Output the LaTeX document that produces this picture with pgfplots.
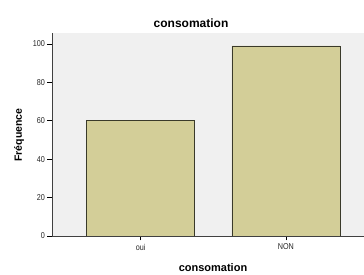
\documentclass[border=0pt]{standalone}
\usepackage{fontspec}
\setmainfont{Liberation Sans}
\usepackage{pgfplots}
\pgfplotsset{compat=1.18}
\definecolor{bgc}{HTML}{F0F0F0}
\definecolor{barc}{HTML}{D3CE98}
\definecolor{edgec}{HTML}{3A3A2A}
\begin{document}
\begin{tikzpicture}
\useasboundingbox (0,0) rectangle (364pt,275pt);
\clip (0,0) rectangle (364pt,275pt);
\fill[white] (0,0) rectangle (364pt,275pt);
\begin{axis}[
  at={(52pt,39pt)}, anchor=south west,
  scale only axis, width=325pt, height=203pt,
  xmin=-0.61, xmax=1.627, ymin=0, ymax=105.7,
  axis background/.style={fill=bgc},
  axis line style={draw=black!75, line width=0.8pt},
  axis x line*=bottom, axis y line*=left,
  ytick={0,20,40,60,80,100},
  xtick={0,1}, xticklabels={\scalebox{0.85}[1]{oui},\scalebox{0.85}[1]{NON}},
  yticklabel={\scalebox{0.85}[1]{\pgfmathprintnumber{\tick}}},
  tick align=outside, tick style={black, line width=0.6pt},
  major tick length=4.5pt,
  ticklabel style={font=\fontsize{8.5}{9}\selectfont, text=black!85},
  yticklabel style={xshift=1pt},
  /pgf/number format/assume math mode=true,
  ybar, bar width=108pt,
]
\addplot[fill=barc, draw=edgec, line width=0.7pt] coordinates {(0,60) (1,99)};
\end{axis}
\node[font=\bfseries\fontsize{12}{14}\selectfont] at (191pt,252pt) {consomation};
\node[font=\bfseries\fontsize{11}{13}\selectfont] at (213pt,7pt) {consomation};
\node[font=\bfseries\fontsize{10.5}{12}\selectfont, rotate=90] at (19pt,140pt) {Fréquence};
\end{tikzpicture}
\end{document}
